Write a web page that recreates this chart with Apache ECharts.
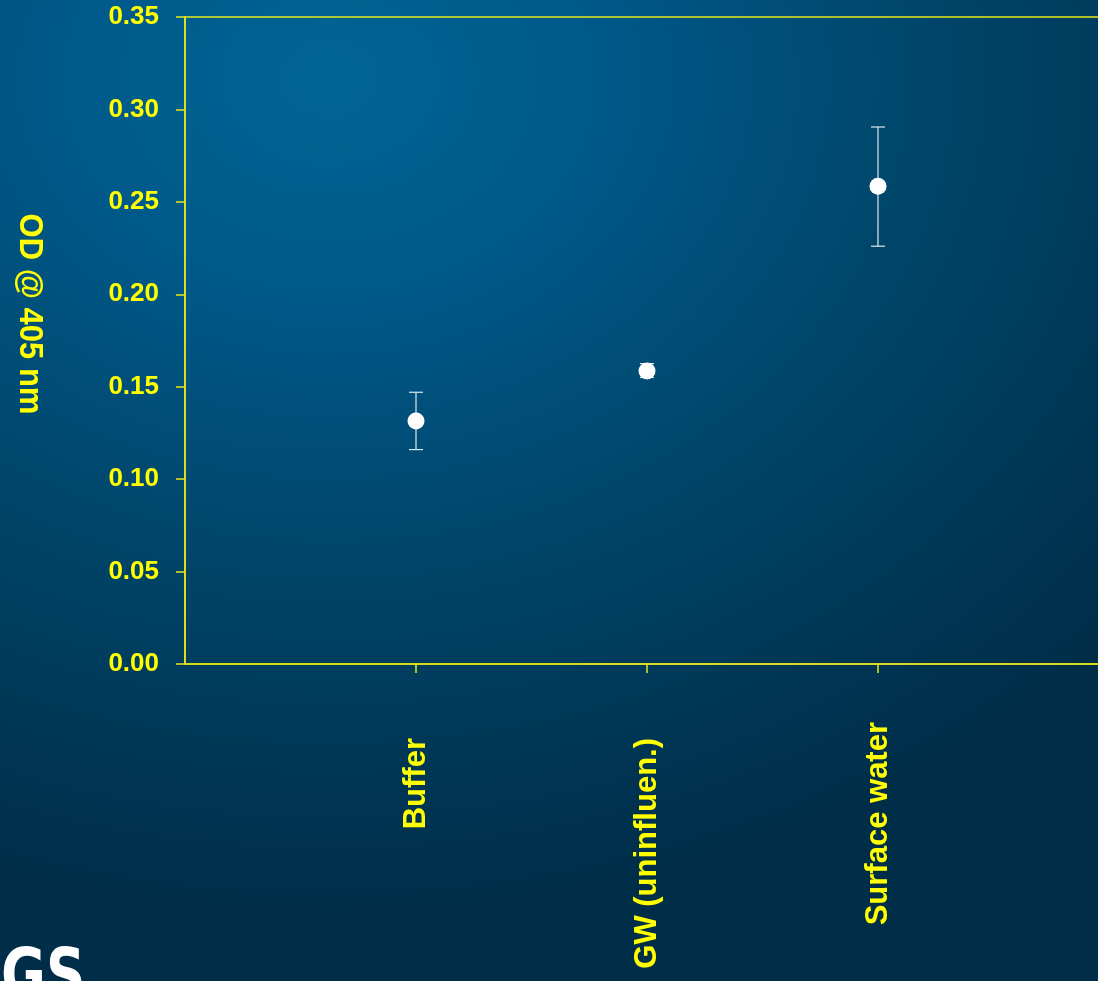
<!DOCTYPE html>
<html>
<head>
<meta charset="utf-8">
<script src="https://cdn.jsdelivr.net/npm/echarts@6/dist/echarts.min.js"></script>
<style>
  html, body { margin: 0; padding: 0; }
  #chart {
    width: 1098px; height: 981px;
    background: radial-gradient(ellipse 95% 85% at 30% 8%, #006595 0%, #00598a 25%, #00476c 55%, #003858 80%, #002e49 100%);
  }
</style>
</head>
<body>
<div id="chart"></div>
<script>
// Sample groups (empty slots pad the axis on both sides)
const categories = ['', 'Buffer', 'GW (uninfluen.)', 'Surface water', ''];
// Mean optical density at 405 nm
const meanOD = [null, 0.1315, 0.1585, 0.2585, null];
// Error bar limits
const lowOD  = [null, 0.1160, 0.1550, 0.2260, null];
const highOD = [null, 0.1470, 0.1625, 0.2905, null];
const yTicks = [0, 0.05, 0.10, 0.15, 0.20, 0.25, 0.30, 0.35];

const YELLOW = '#ffff00';
const AXIS = '#e8e81a';
const FONT = '"Liberation Sans", Arial, sans-serif';

const pointData = [];
const barData = [];
categories.forEach((c, i) => {
  if (meanOD[i] != null) {
    pointData.push([i, meanOD[i]]);
    barData.push([i, lowOD[i], highOD[i]]);
  }
});

const chart = echarts.init(document.getElementById('chart'), null, { renderer: 'canvas' });
chart.setOption({
  backgroundColor: 'transparent',
  animation: false,
  grid: {
    left: 185, top: 17, width: 924, height: 647,
    outerBoundsMode: 'none',
    containLabel: false,
    show: true, borderColor: AXIS, borderWidth: 1.5, backgroundColor: 'transparent'
  },
  xAxis: {
    type: 'category',
    data: categories,
    boundaryGap: false,
    axisLine: { lineStyle: { color: AXIS, width: 1.5 } },
    axisTick: {
      length: 9, lineStyle: { color: AXIS, width: 1.5 },
      interval: (i, v) => v !== ''
    },
    axisLabel: {
      interval: 0,
      rotate: 90,
      margin: 58,
      color: YELLOW,
      fontFamily: FONT,
      fontWeight: 'bold',
      fontSize: 31,
      formatter: v => v === 'Surface water' ? '{s|' + v + '}' : '{o|' + v + '}',
      rich: {
        s: { color: YELLOW, fontFamily: FONT, fontWeight: 'bold', fontSize: 31 },
        o: { color: YELLOW, fontFamily: FONT, fontWeight: 'bold', fontSize: 31, padding: [0, 16, 0, 0] }
      }
    },
    splitLine: { show: false }
  },
  yAxis: {
    type: 'value',
    min: 0, max: 0.35, interval: 0.05,
    axisLine: { show: true, lineStyle: { color: AXIS, width: 1.5 } },
    axisTick: { show: true, length: 9, lineStyle: { color: AXIS, width: 1.5 } },
    axisLabel: {
      color: YELLOW, fontFamily: FONT, fontWeight: 'bold', fontSize: 26, margin: 26,
      formatter: v => v.toFixed(2)
    },
    splitLine: { show: false }
  },
  graphic: [
    {
      type: 'text',
      x: 29, y: 314,
      rotation: -Math.PI / 2,
      scaleY: 1.1,
      style: {
        text: 'OD @ 405 nm',
        fill: YELLOW,
        font: 'bold 31px ' + FONT,
        align: 'center',
        verticalAlign: 'middle'
      }
    },
    {
      type: 'text',
      x: 1, y: 944,
      scaleX: 0.76,
      style: {
        text: 'GS',
        fill: '#ffffff',
        font: 'bold 72px "DejaVu Sans", sans-serif',
        align: 'left',
        verticalAlign: 'top'
      }
    }
  ],
  series: [
    {
      type: 'custom',
      data: barData,
      z: 3,
      renderItem: (params, api) => {
        const x = api.value(0);
        const lo = api.coord([x, api.value(1)]);
        const hi = api.coord([x, api.value(2)]);
        const cap = 7;
        const style = { stroke: '#dfe7ee', lineWidth: 1.2, fill: null };
        return {
          type: 'group',
          children: [
            { type: 'line', shape: { x1: lo[0], y1: lo[1], x2: hi[0], y2: hi[1] }, style },
            { type: 'line', shape: { x1: hi[0] - cap, y1: hi[1], x2: hi[0] + cap, y2: hi[1] }, style },
            { type: 'line', shape: { x1: lo[0] - cap, y1: lo[1], x2: lo[0] + cap, y2: lo[1] }, style }
          ]
        };
      }
    },
    {
      type: 'scatter',
      data: pointData,
      symbol: 'circle',
      symbolSize: 17,
      z: 4,
      itemStyle: { color: '#ffffff', opacity: 1 }
    }
  ]
});
</script>
</body>
</html>
